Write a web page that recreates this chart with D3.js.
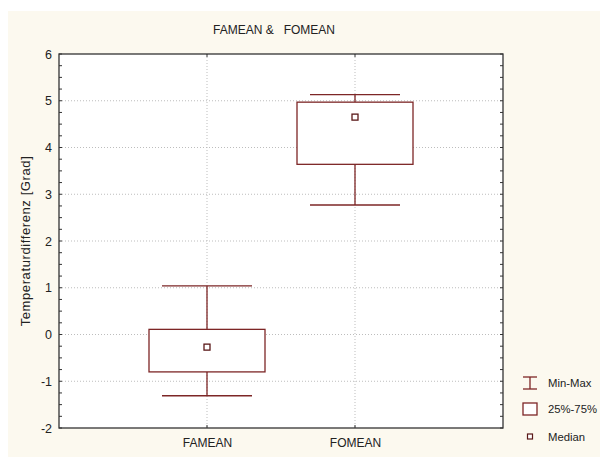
<!DOCTYPE html>
<html><head><meta charset="utf-8">
<script src="https://cdn.jsdelivr.net/npm/d3@7"></script>
<style>body{margin:0;background:#fff}svg{display:block}text{font-family:"Liberation Sans",Arial,sans-serif;fill:#222}</style>
</head><body>
<svg id="c" width="600" height="457"></svg>
<script>
const categories = ["FAMEAN", "FOMEAN"];
const minVals = [-1.31, 2.77];
const q1Vals = [-0.80, 3.64];
const medianVals = [-0.27, 4.65];
const q3Vals = [0.11, 4.97];
const maxVals = [1.04, 5.13];
const yTicks = [-2, -1, 0, 1, 2, 3, 4, 5, 6];
const legendLabels = ["Min-Max", "25%-75%", "Median"];

const svg = d3.select("#c");
const col = "#7d2626";
const L = 59, R = 503, T = 54, B = 428;
svg.append("rect").attr("x", 8).attr("y", 11).attr("width", 592).attr("height", 446).attr("fill", "#fcf9ef");
svg.append("rect").attr("x", L).attr("y", T).attr("width", R - L).attr("height", B - T).attr("fill", "#fff");

const x = d3.scalePoint().domain(categories).range([L, R]).padding(1);
const y = d3.scaleLinear().domain([-2, 6]).range([B, T]);

// grid
const g = svg.append("g");
g.selectAll(".hg").data(yTicks.slice(1, -1)).join("line")
  .attr("x1", L).attr("x2", R).attr("y1", d => y(d)).attr("y2", d => y(d))
  .attr("stroke", "#bdbdbd").attr("stroke-dasharray", "1,2");
g.selectAll(".vg").data(categories).join("line")
  .attr("x1", d => x(d)).attr("x2", d => x(d)).attr("y1", T).attr("y2", B)
  .attr("stroke", "#bdbdbd").attr("stroke-dasharray", "1,2");

// axes
const minor = d3.range(-2, 6.001, 0.25);
const yAx = d3.axisLeft(y).tickValues(yTicks).tickSize(0).tickPadding(7).tickFormat(d => String(d));
const ya = svg.append("g").attr("transform", `translate(${L},0)`).call(yAx);
ya.select(".domain").remove();
ya.selectAll("text").attr("font-size", 12.5).attr("font-family", "Liberation Sans, Arial").attr("fill", "#222");
svg.append("g").selectAll("line").data(minor).join("line")
  .attr("x1", L).attr("x2", L + 3).attr("y1", d => y(d)).attr("y2", d => y(d)).attr("stroke", "#333");
svg.append("g").selectAll("line").data(minor).join("line")
  .attr("x1", R).attr("x2", R - 3).attr("y1", d => y(d)).attr("y2", d => y(d)).attr("stroke", "#333");
const xAx = d3.axisBottom(x).tickSize(0).tickPadding(10);
const xa = svg.append("g").attr("transform", `translate(0,${B})`).call(xAx);
xa.select(".domain").remove();
xa.selectAll("text").attr("font-size", 12).attr("font-family", "Liberation Sans, Arial").attr("fill", "#222");
svg.append("g").selectAll("line").data(categories).join("line")
  .attr("x1", d => x(d)).attr("x2", d => x(d)).attr("y1", B).attr("y2", B - 3).attr("stroke", "#333");
svg.append("g").selectAll("line").data(categories).join("line")
  .attr("x1", d => x(d)).attr("x2", d => x(d)).attr("y1", T).attr("y2", T + 3).attr("stroke", "#333");
svg.append("rect").attr("x", L).attr("y", T).attr("width", R - L).attr("height", B - T)
  .attr("fill", "none").attr("stroke", "#333").attr("stroke-width", 1.3);

// boxes
const data = categories.map((c, i) => ({c, mn: minVals[i], q1: q1Vals[i], md: medianVals[i], q3: q3Vals[i], mx: maxVals[i]}));
const bw = 58, cw = 45;
const bx = svg.append("g").selectAll("g").data(data).join("g");
bx.append("line").attr("x1", d => x(d.c)).attr("x2", d => x(d.c)).attr("y1", d => y(d.mx)).attr("y2", d => y(d.q3)).attr("stroke", col).attr("stroke-width", 1.3);
bx.append("line").attr("x1", d => x(d.c)).attr("x2", d => x(d.c)).attr("y1", d => y(d.q1)).attr("y2", d => y(d.mn)).attr("stroke", col).attr("stroke-width", 1.3);
bx.append("line").attr("x1", d => x(d.c) - cw).attr("x2", d => x(d.c) + cw).attr("y1", d => y(d.mx)).attr("y2", d => y(d.mx)).attr("stroke", col).attr("stroke-width", 1.3);
bx.append("line").attr("x1", d => x(d.c) - cw).attr("x2", d => x(d.c) + cw).attr("y1", d => y(d.mn)).attr("y2", d => y(d.mn)).attr("stroke", col).attr("stroke-width", 1.3);
bx.append("rect").attr("x", d => x(d.c) - bw).attr("width", bw * 2)
  .attr("y", d => y(d.q3)).attr("height", d => y(d.q1) - y(d.q3))
  .attr("fill", "#fff").attr("stroke", col).attr("stroke-width", 1.3);
bx.append("rect").attr("x", d => x(d.c) - 3).attr("y", d => y(d.md) - 3).attr("width", 6).attr("height", 6)
  .attr("fill", "#fff").attr("stroke", "#5a1818").attr("stroke-width", 1.3);

// titles
svg.append("text").attr("x", 274).attr("y", 34).attr("text-anchor", "middle").attr("font-size", 12).text("FAMEAN &\u00a0\u00a0 FOMEAN");
svg.append("text").attr("transform", `translate(30,${(T + B) / 2}) rotate(-90)`).attr("text-anchor", "middle").attr("font-size", 13).attr("letter-spacing", 0.6).text("Temperaturdifferenz [Grad]");

// legend
const lg = svg.append("g");
const lx = 530;
lg.append("line").attr("x1", lx).attr("x2", lx).attr("y1", 377).attr("y2", 389).attr("stroke", col).attr("stroke-width", 1.3);
lg.append("line").attr("x1", lx - 7).attr("x2", lx + 7).attr("y1", 377).attr("y2", 377).attr("stroke", col).attr("stroke-width", 1.3);
lg.append("line").attr("x1", lx - 7).attr("x2", lx + 7).attr("y1", 389).attr("y2", 389).attr("stroke", col).attr("stroke-width", 1.3);
lg.append("rect").attr("x", lx - 7).attr("y", 403).attr("width", 14).attr("height", 12).attr("fill", "#fff").attr("stroke", col).attr("stroke-width", 1.3);
lg.append("rect").attr("x", lx - 2.5).attr("y", 434).attr("width", 5).attr("height", 5).attr("fill", "#fff").attr("stroke", "#5a1818").attr("stroke-width", 1.2);
lg.selectAll("text").data(legendLabels).join("text")
  .attr("x", 548).attr("y", (d, i) => [387, 413, 441][i]).attr("font-size", 11.3).text(d => d);
</script>
</body></html>
